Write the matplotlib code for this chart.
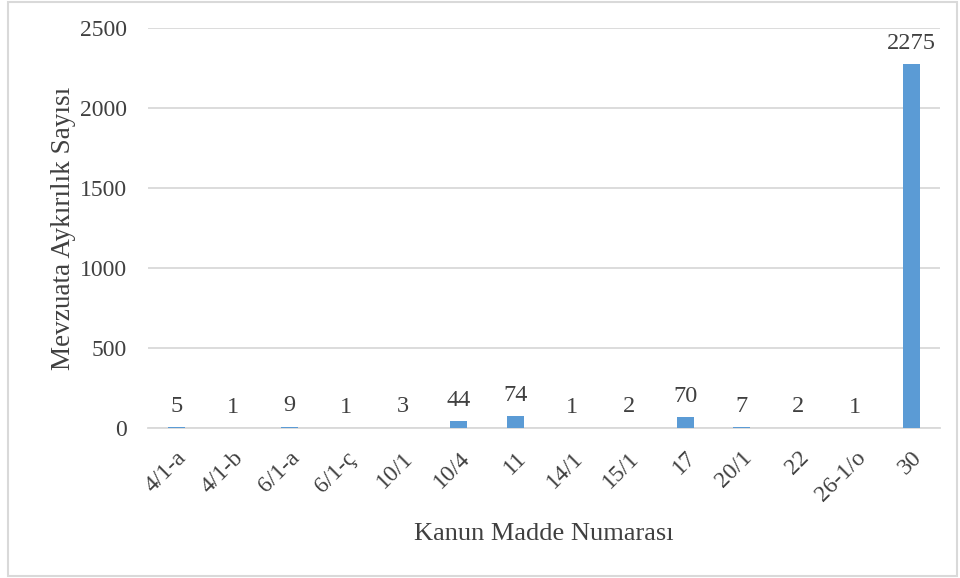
import matplotlib.pyplot as plt
from matplotlib.patches import Rectangle

# Data
maddeler = ['4/1-a', '4/1-b', '6/1-a', '6/1-ç', '10/1', '10/4', '11', '14/1',
            '15/1', '17', '20/1', '22', '26-1/o', '30']
aykirilik = [5, 1, 9, 1, 3, 44, 74, 1, 2, 70, 7, 2, 1, 2275]
y_ticks = [0, 500, 1000, 1500, 2000, 2500]

plt.rcParams['font.family'] = ['Liberation Serif', 'DejaVu Serif']
text_color = '#404040'
grid_color = '#D9D9D9'

fig = plt.figure(figsize=(9.6, 5.78), dpi=100)
ax = fig.add_axes([0.154, 0.2595, 0.825, 0.6921])

x = range(len(maddeler))
bars = ax.bar(x, aykirilik, width=0.3, color='#5B9BD5', zorder=3)

# value labels above bars
for xi, v in zip(x, aykirilik):
    ax.annotate(str(v), (xi, v), xytext=(0, 11), textcoords='offset points',
                ha='center', va='baseline', fontsize=17.5, color=text_color)

ax.set_xlim(-0.5, len(maddeler) - 0.5)
ax.set_ylim(0, 2500)
ax.set_yticks(y_ticks)
ax.set_xticks(list(x))
ax.set_xticklabels(maddeler, rotation=45, ha='right', rotation_mode='anchor')
ax.tick_params(axis='both', length=0, labelsize=17, labelcolor=text_color)
ax.tick_params(axis='y', pad=15)
ax.tick_params(axis='x', pad=14)

ax.yaxis.grid(True, color=grid_color, linewidth=1.3, zorder=0)
for side in ['top', 'right', 'left']:
    ax.spines[side].set_visible(False)
ax.spines['bottom'].set_color(grid_color)
ax.spines['bottom'].set_linewidth(1.3)

ax.set_ylabel('Mevzuata Aykırılık Sayısı', fontsize=19.5, color=text_color, labelpad=3)
ax.set_xlabel('Kanun Madde Numarası', fontsize=19, color=text_color, labelpad=12)

# outer frame
fig.patches.append(Rectangle((0.008, 0.004), 0.989, 0.993, transform=fig.transFigure,
                             fill=False, edgecolor=grid_color, linewidth=1.5))

fig.savefig('out.png', dpi=100)
